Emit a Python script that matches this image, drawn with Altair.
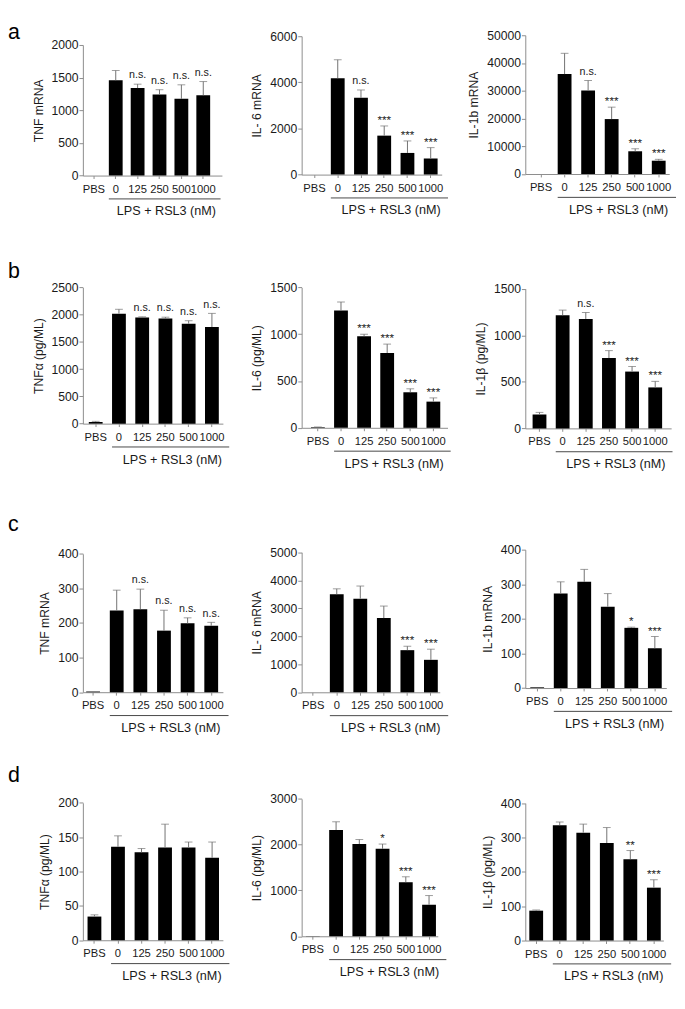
import altair as alt
import pandas as pd

# ---------------- data ----------------
CATS = ["PBS", "0", "125", "250", "500", "1000"]
XLABEL = "LPS + RSL3 (nM)"
LETTERS = ["a", "b", "c", "d"]

TITLES = [["TNF mRNA", "IL- 6 mRNA", "IL-1b mRNA"],
          ["TNFα (pg/ML)", "IL-6 (pg/ML)", "IL-1β (pg/ML)"],
          ["TNF mRNA", "IL- 6 mRNA", "IL-1b mRNA"],
          ["TNFα (pg/ML)", "IL-6 (pg/ML)", "IL-1β (pg/ML)"]]

# row a
A1_MEAN = [0, 1460, 1340, 1240, 1175, 1230]
A1_ERR = [0, 150, 60, 75, 215, 210]
A1_SIG = ["", "", "n.s.", "n.s.", "n.s.", "n.s."]
A1_TICKS = [0, 500, 1000, 1500, 2000]
A2_MEAN = [0, 4180, 3330, 1690, 940, 700]
A2_ERR = [0, 800, 340, 420, 520, 470]
A2_SIG = ["", "", "n.s.", "***", "***", "***"]
A2_TICKS = [0, 2000, 4000, 6000]
A3_MEAN = [0, 36000, 30100, 19800, 8200, 4800]
A3_ERR = [0, 7500, 3600, 4300, 900, 500]
A3_SIG = ["", "", "n.s.", "***", "***", "***"]
A3_TICKS = [0, 10000, 20000, 30000, 40000, 50000]
# row b
B1_MEAN = [30, 2020, 1950, 1930, 1835, 1775]
B1_ERR = [12, 80, 12, 25, 55, 250]
B1_SIG = ["", "", "n.s.", "n.s.", "n.s.", "n.s."]
B1_TICKS = [0, 500, 1000, 1500, 2000, 2500]
B2_MEAN = [6, 1255, 980, 800, 380, 280]
B2_ERR = [3, 90, 20, 95, 37, 40]
B2_SIG = ["", "", "***", "***", "***", "***"]
B2_TICKS = [0, 500, 1000, 1500]
B3_MEAN = [150, 1215, 1175, 755, 610, 440]
B3_ERR = [22, 55, 70, 80, 55, 65]
B3_SIG = ["", "", "n.s.", "***", "***", "***"]
B3_TICKS = [0, 500, 1000, 1500]
# row c
C1_MEAN = [2, 236, 240, 178, 199, 192]
C1_ERR = [0, 59, 58, 59, 16, 10]
C1_SIG = ["", "", "n.s.", "n.s.", "n.s.", "n.s."]
C1_TICKS = [0, 100, 200, 300, 400]
C2_MEAN = [0, 3500, 3345, 2650, 1505, 1160]
C2_ERR = [0, 195, 450, 430, 140, 380]
C2_SIG = ["", "", "", "", "***", "***"]
C2_TICKS = [0, 1000, 2000, 3000, 4000, 5000]
C3_MEAN = [2, 273, 307, 235, 174, 115]
C3_ERR = [0, 34, 36, 38, 2, 34]
C3_SIG = ["", "", "", "", "*", "***"]
C3_TICKS = [0, 100, 200, 300, 400]
# row d
D1_MEAN = [34.5, 136, 128, 135, 135, 120]
D1_ERR = [2.5, 16, 5.5, 34, 8, 23]
D1_SIG = ["", "", "", "", "", ""]
D1_TICKS = [0, 50, 100, 150, 200]
D2_MEAN = [4, 2320, 2015, 1910, 1180, 688]
D2_ERR = [0, 180, 97, 104, 119, 201]
D2_SIG = ["", "", "", "*", "***", "***"]
D2_TICKS = [0, 1000, 2000, 3000]
D3_MEAN = [87, 336, 314, 284, 237, 154]
D3_ERR = [2, 9, 25, 45, 25, 23]
D3_SIG = ["", "", "", "", "**", "***"]
D3_TICKS = [0, 100, 200, 300, 400]

# ---------------- layout (pixels, absolute page coords) ----------------
ZERO = [[178.3, 177.3, 176.7], [432.7, 436.0, 436.0],
        [703.3, 706.7, 702.3], [958.0, 957.3, 957.3]]
TOP = [[44.0, 35.0, 34.0], [292.7, 291.7, 292.3],
       [561.0, 562.7, 560.0], [816.7, 816.0, 816.0]]
AXIS_X = [[85, 301, 525], [85, 298.3, 527.7], [85, 308.3, 529], [85, 310, 532.7]]
PBS_OFF = [[4.2, 6.1, 9.1], [6.1, 9.6, 7.5], [3.4, 4.8, 5.1], [4.8, 4.4, 4.1]]
STEP = [[22.5, 23.9, 24.2], [23.9, 23.75, 23.8], [24.3, 24.2, 24.2], [24.2, 23.9, 24.2]]
PLOT_W = [[143, 144, 148], [144, 150, 150], [144, 142, 145], [144, 140, 142]]
BAR_W = 14.2
ROW_GAP = 109
LETTER_BASE = [15, 283, 537, 795]
LETTER_SIZE = 22
PAGE_MARGIN = 8
UNDER_EXTRA = 10.7
LETTER_A_TOP = -13   # relative to the first row's group top

FONT = "Liberation Sans"
AXIS_GRAY = "#8a8a8a"
TEXT_COLOR = "#1a1a1a"
ERR_COLOR = "#707070"
LINE_COLOR = "#444444"


def group_top(r, c):
    if r == 0:
        return min(TOP[0])
    return ZERO[r - 1][c] + ROW_GAP


def make_panel(r, c, means, errs, sigs, ymax, yticks):
    T = group_top(r, c)
    zero = ZERO[r][c]
    top = TOP[r][c]
    Hg = zero - T
    dH = zero - top
    W = PLOT_W[r][c]
    step = STEP[r][c]
    off = PBS_OFF[r][c]
    n = len(CATS)
    pi = 1 - BAR_W / step
    po = (W / step - n + pi) / 2
    al = min(1.0, max(0.0, off / (W - step * (n - pi))))
    Wg = (AXIS_X[r][c + 1] - AXIS_X[r][c]) if c < 2 else W
    ytitle = TITLES[r][c]

    xscale = alt.Scale(domain=CATS, range=[0, W], paddingInner=pi,
                       paddingOuter=po, align=al)
    yscale = alt.Scale(domain=[0, ymax], range=[Hg, Hg - dH], nice=False, zero=True)
    yaxis = alt.Axis(values=yticks, format="d", labelOverlap=False, title=ytitle,
                     tickCount=len(yticks))
    xaxis = alt.Axis(labelOverlap=False, title=None)

    df = pd.DataFrame({"cat": CATS, "mean": means, "err": errs, "sig": sigs})
    df["hi"] = df["mean"] + df["err"]
    base = alt.Chart(df)
    xn = alt.X("cat:N", scale=xscale, sort=CATS, axis=xaxis)

    bars = base.mark_bar(color="black").encode(
        x=xn, y=alt.Y("mean:Q", scale=yscale, axis=yaxis))
    errb = base.transform_filter("datum.err > 0")
    rule = errb.mark_rule(color=ERR_COLOR, strokeWidth=1).encode(
        x=xn, y=alt.Y("mean:Q", scale=yscale, axis=yaxis), y2="hi:Q")
    cap = errb.mark_tick(color=ERR_COLOR, thickness=1, size=8).encode(
        x=xn, y=alt.Y("hi:Q", scale=yscale, axis=yaxis))
    ns = base.transform_filter("datum.sig == 'n.s.'").mark_text(
        fontSize=11, dy=-6, baseline="alphabetic", color=TEXT_COLOR).encode(
        x=xn, y=alt.Y("hi:Q", scale=yscale, axis=yaxis), text="sig:N")
    stars = base.transform_filter("datum.sig != '' && datum.sig != 'n.s.'").mark_text(
        fontSize=12, dy=-2, baseline="alphabetic", color=TEXT_COLOR).encode(
        x=xn, y=alt.Y("hi:Q", scale=yscale, axis=yaxis), text="sig:N")

    under_df = pd.DataFrame({"start": ["0"], "end": ["1000"], "mid": ["250"], "t": [XLABEL]})
    under = alt.Chart(under_df).mark_rule(
        color=LINE_COLOR, strokeWidth=1, x2Offset=UNDER_EXTRA).encode(
        x=alt.X("start:N", bandPosition=0, scale=xscale, sort=CATS, axis=xaxis),
        x2=alt.X2("end:N", bandPosition=1),
        y=alt.value(Hg + 24))
    lps = alt.Chart(under_df).mark_text(fontSize=13, baseline="alphabetic",
                                        color=TEXT_COLOR).encode(
        x=alt.X("mid:N", bandPosition=1.0, scale=xscale, sort=CATS, axis=xaxis),
        y=alt.value(Hg + 41), text="t:N")

    layers = [bars, rule, cap, ns, stars, under, lps]
    if c == 0:
        y_top = LETTER_BASE[r] - round(0.79 * LETTER_SIZE) - T
        if r == 0:
            y_top = LETTER_A_TOP
        ldf = pd.DataFrame({"t": [LETTERS[r]]})
        letter = alt.Chart(ldf).mark_text(fontSize=LETTER_SIZE, align="left",
                                          baseline="top", color="black").encode(
            x=alt.value(PAGE_MARGIN - AXIS_X[r][0]), y=alt.value(y_top), text="t:N")
        layers.append(letter)
    return alt.layer(*layers).properties(width=Wg, height=Hg)


panels = [
    make_panel(0, 0, A1_MEAN, A1_ERR, A1_SIG, 2000, A1_TICKS),
    make_panel(0, 1, A2_MEAN, A2_ERR, A2_SIG, 6000, A2_TICKS),
    make_panel(0, 2, A3_MEAN, A3_ERR, A3_SIG, 50000, A3_TICKS),
    make_panel(1, 0, B1_MEAN, B1_ERR, B1_SIG, 2500, B1_TICKS),
    make_panel(1, 1, B2_MEAN, B2_ERR, B2_SIG, 1500, B2_TICKS),
    make_panel(1, 2, B3_MEAN, B3_ERR, B3_SIG, 1500, B3_TICKS),
    make_panel(2, 0, C1_MEAN, C1_ERR, C1_SIG, 400, C1_TICKS),
    make_panel(2, 1, C2_MEAN, C2_ERR, C2_SIG, 5000, C2_TICKS),
    make_panel(2, 2, C3_MEAN, C3_ERR, C3_SIG, 400, C3_TICKS),
    make_panel(3, 0, D1_MEAN, D1_ERR, D1_SIG, 200, D1_TICKS),
    make_panel(3, 1, D2_MEAN, D2_ERR, D2_SIG, 3000, D2_TICKS),
    make_panel(3, 2, D3_MEAN, D3_ERR, D3_SIG, 400, D3_TICKS),
]

chart = alt.concat(
    *panels, columns=3, align="none", bounds="flush",
    spacing={"row": ROW_GAP, "column": 0},
).properties(padding=0).configure(font=FONT).configure_view(
    strokeWidth=0
).configure_axis(
    labelFont=FONT, titleFont=FONT, domainColor=AXIS_GRAY, tickColor=AXIS_GRAY,
    labelColor=TEXT_COLOR, titleColor=TEXT_COLOR, grid=False, domainWidth=1,
).configure_axisX(
    ticks=True, tickSize=3, labelPadding=5, labelFontSize=11.5, labelAngle=0,
).configure_axisY(
    tickSize=4, labelPadding=1, labelFontSize=12.5, titleFontSize=12.5,
    titleFontWeight="normal", titlePadding=6, labelOverlap=False,
).configure_text(font=FONT)

chart.save("out.html", embed_options={"renderer": "svg", "actions": False})
